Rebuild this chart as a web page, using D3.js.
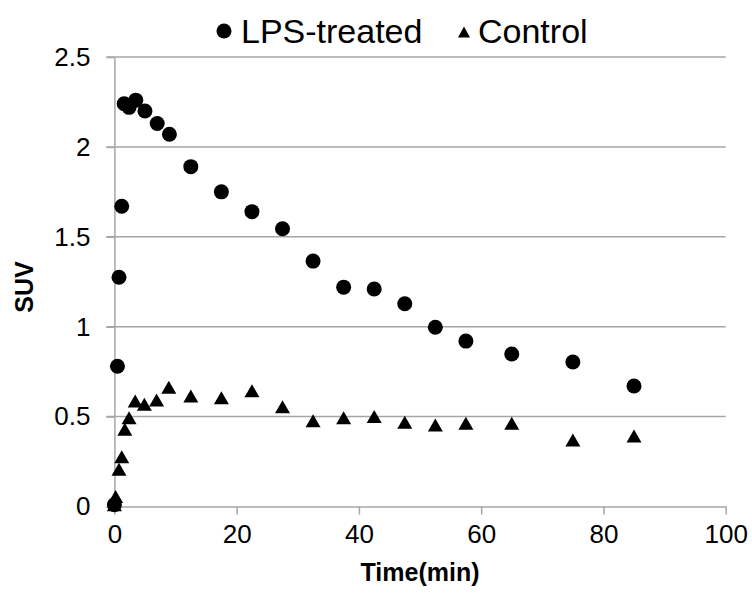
<!DOCTYPE html>
<html>
<head>
<meta charset="utf-8">
<script src="https://cdn.jsdelivr.net/npm/d3@7"></script>
<style>
  body { margin: 0; background: #fff; }
  svg { display: block; font-family: "Liberation Sans", Arial, sans-serif; }
</style>
</head>
<body>
<svg width="752" height="595"></svg>
<script>
// data
var lpsTime = [0, 0.5, 0.75, 1.2, 1.6, 2.4, 3.5, 5, 7, 9, 12.5, 17.5, 22.5, 27.5, 32.5, 37.5, 42.5, 47.5, 52.5, 57.5, 65, 75, 85];
var lpsSUV = [0.01, 0.78, 1.275, 1.67, 2.24, 2.22, 2.26, 2.2, 2.13, 2.07, 1.89, 1.75, 1.64, 1.545, 1.365, 1.22, 1.21, 1.128, 0.997, 0.92, 0.848, 0.804, 0.67];
var ctrlTime = [0, 0.2, 0.75, 1.2, 1.7, 2.4, 3.4, 4.9, 6.9, 8.9, 12.5, 17.5, 22.5, 27.5, 32.5, 37.5, 42.5, 47.5, 52.5, 57.5, 65, 75, 85];
var ctrlSUV = [0.01, 0.055, 0.207, 0.277, 0.43, 0.494, 0.587, 0.568, 0.592, 0.663, 0.615, 0.605, 0.644, 0.555, 0.477, 0.494, 0.5, 0.468, 0.453, 0.463, 0.463, 0.37, 0.392];
var xTicks = [0, 20, 40, 60, 80, 100];
var yTicks = [0, 0.5, 1, 1.5, 2, 2.5];
var seriesNames = ["LPS-treated", "Control"];

var svg = d3.select("svg");
var grey = "#a6a6a6";

var x = d3.scaleLinear().domain([0, 100]).range([114.4, 725.7]);
var y = d3.scaleLinear().domain([0, 2.5]).range([506.5, 57]);

// horizontal gridlines
svg.append("g")
    .selectAll("line")
    .data(yTicks.slice(1))
    .enter().append("line")
    .attr("x1", x(0) - 8)
    .attr("x2", x(100))
    .attr("y1", function (d) { return y(d); })
    .attr("y2", function (d) { return y(d); })
    .attr("stroke", grey)
    .attr("stroke-width", 1.5);

// x axis
var xAxis = svg.append("g")
    .attr("transform", "translate(0," + y(0) + ")")
    .call(d3.axisBottom(x).tickValues(xTicks).tickSize(8).tickSizeOuter(0).tickPadding(10));

// y axis
var yAxis = svg.append("g")
    .attr("transform", "translate(" + x(0) + ",0)")
    .call(d3.axisLeft(y).tickValues(yTicks).tickSize(8).tickSizeOuter(0).tickPadding(16)
        .tickFormat(function (d) { return String(d); }));

[xAxis, yAxis].forEach(function (a) {
    a.select(".domain").attr("stroke", grey).attr("stroke-width", 1.5);
    a.selectAll(".tick line").attr("stroke", grey).attr("stroke-width", 1.5);
    a.selectAll(".tick text")
        .attr("fill", "#000")
        .attr("font-size", 26)
        .attr("font-family", "Liberation Sans, Arial, sans-serif");
});

// axis titles
svg.append("text")
    .attr("x", x(50))
    .attr("y", 581)
    .attr("text-anchor", "middle")
    .attr("font-size", 25)
    .attr("font-weight", "bold")
    .text("Time(min)");

svg.append("text")
    .attr("transform", "translate(33,287) rotate(-90)")
    .attr("text-anchor", "middle")
    .attr("font-size", 25)
    .attr("font-weight", "bold")
    .text("SUV");

function triPath(cx, cy, w, h) {
    return "M" + cx + "," + (cy - h / 2) + "L" + (cx + w / 2) + "," + (cy + h / 2) +
        "L" + (cx - w / 2) + "," + (cy + h / 2) + "Z";
}

// control triangles
svg.append("g")
    .selectAll("path")
    .data(d3.range(ctrlTime.length))
    .enter().append("path")
    .attr("d", function (i) { return triPath(x(ctrlTime[i]), y(ctrlSUV[i]), 15, 13); })
    .attr("fill", "#000");

// LPS circles
svg.append("g")
    .selectAll("circle")
    .data(d3.range(lpsTime.length))
    .enter().append("circle")
    .attr("cx", function (i) { return x(lpsTime[i]); })
    .attr("cy", function (i) { return y(lpsSUV[i]); })
    .attr("r", 7.5)
    .attr("fill", "#000");

// legend
var legend = svg.append("g").attr("font-size", 34);
legend.append("circle").attr("cx", 224).attr("cy", 31).attr("r", 7.5).attr("fill", "#000");
legend.append("text").attr("x", 241).attr("y", 43).text(seriesNames[0]);
legend.append("path").attr("d", triPath(464, 32, 12, 11)).attr("fill", "#000");
legend.append("text").attr("x", 478).attr("y", 43).text(seriesNames[1]);
</script>
</body>
</html>
